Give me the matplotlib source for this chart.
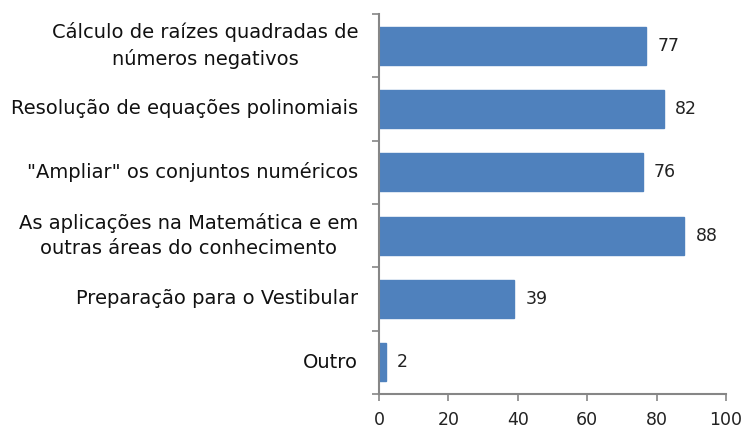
import matplotlib
matplotlib.use("Agg")
import matplotlib.pyplot as plt
import numpy as np

categories = [
    "Cálculo de raízes quadradas de\nnúmeros negativos",
    "Resolução de equações polinomiais",
    "\"Ampliar\" os conjuntos numéricos",
    "As aplicações na Matemática e em\noutras áreas do conhecimento",
    "Preparação para o Vestibular",
    "Outro",
]
values = [77, 82, 76, 88, 39, 2]
xticks = [0, 20, 40, 60, 80, 100]

plt.rcParams['font.family'] = ['DejaVu Sans']

fig = plt.figure(figsize=(7.42, 4.30), dpi=100)
ax = fig.add_axes([379/742, 1 - 394/430, (726-379)/742, (394-14)/430])

y = np.arange(len(categories))
ax.barh(y, values, height=0.6, color='#4F81BD', edgecolor='#4F81BD', zorder=2)
for yi, v in zip(y, values):
    ax.text(v + 3.2, yi, str(v), va='center', ha='left', fontsize=12.5, color='#222222')

ax.set_ylim(len(categories) - 0.5, -0.5)
ax.set_xlim(0, 100)
ax.set_xticks(xticks)
ax.set_xticklabels([str(t) for t in xticks], fontsize=12.5, color='#222222')

ax.set_yticks(y)
ax.set_yticklabels(categories, fontsize=14, color='#111111', multialignment='center',
                   linespacing=1.4)
for lab in ax.get_yticklabels():
    lab.set_verticalalignment('center')
ax.tick_params(axis='y', which='major', length=0, pad=15)
ax.set_yticks(np.arange(-0.5, len(categories), 1), minor=True)
ax.tick_params(axis='y', which='minor', length=5, color='#868686', width=1.2)
ax.tick_params(axis='x', length=5, color='#868686', width=1.2, pad=7)

for s in ['top', 'right']:
    ax.spines[s].set_visible(False)
for s in ['left', 'bottom']:
    ax.spines[s].set_color('#868686')
    ax.spines[s].set_linewidth(1.5)

fig.savefig("out.png", dpi=100, facecolor='white')
